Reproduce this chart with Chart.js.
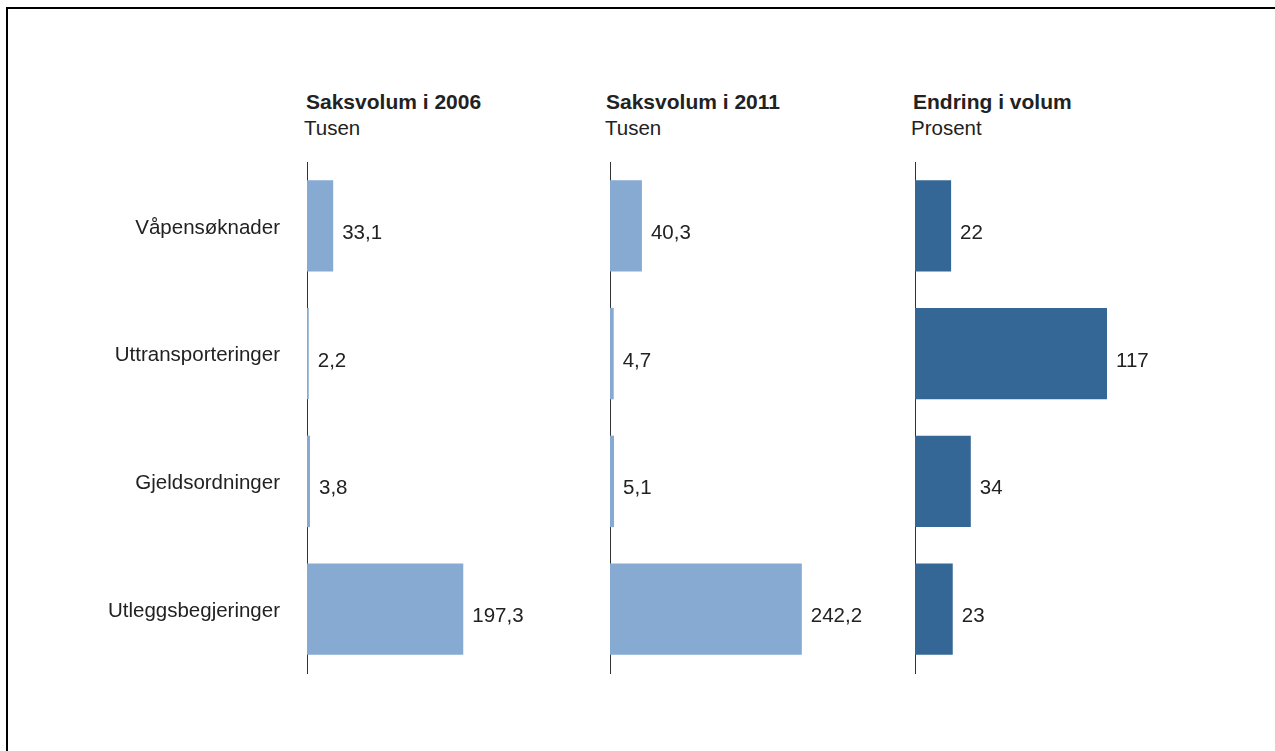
<!DOCTYPE html>
<html>
<head>
<meta charset="utf-8">
<script src="https://cdn.jsdelivr.net/npm/chart.js@4.4.0/dist/chart.umd.min.js"></script>
<style>
  body { margin:0; background:#fff; width:1275px; height:751px; overflow:hidden; position:relative;
         font-family:"Liberation Sans", Arial, sans-serif; color:#222; }
  .frame { position:absolute; left:6px; top:7px; width:1300px; height:800px;
           border-top:2px solid #000; border-left:2px solid #000; }
  canvas { position:absolute; top:0; }
  .title { position:absolute; font-weight:bold; font-size:21px; line-height:21px; white-space:nowrap; }
  .sub { position:absolute; font-size:20.5px; line-height:20.5px; white-space:nowrap; }
</style>
</head>
<body>
<div class="frame"></div>

<div class="title" style="left:306px; top:91px;">Saksvolum i 2006</div>
<div class="sub" style="left:304px; top:118px;">Tusen</div>
<div class="title" style="left:606px; top:91px;">Saksvolum i 2011</div>
<div class="sub" style="left:605px; top:118px;">Tusen</div>
<div class="title" style="left:913px; top:91px;">Endring i volum</div>
<div class="sub" style="left:911px; top:118px;">Prosent</div>

<canvas id="panel2006"></canvas>
<canvas id="panel2011"></canvas>
<canvas id="panelChange"></canvas>

<script>
// Saksvolum etter sakstype
const categories = ["Våpensøknader", "Uttransporteringer", "Gjeldsordninger", "Utleggsbegjeringer"];
const volume2006 = [33.1, 2.2, 3.8, 197.3];   // tusen
const volume2011 = [40.3, 4.7, 5.1, 242.2];   // tusen
const changePct = [22, 117, 34, 23];          // prosent

const FONT = '"Liberation Sans", Arial, sans-serif';

// Writes the value to the right of each bar, Norwegian decimal comma
const valueLabels = {
  id: 'valueLabels',
  afterDatasetsDraw(chart, args, opts) {
    const ctx = chart.ctx;
    const values = chart.data.datasets[0].data;
    ctx.save();
    ctx.font = '20.5px ' + FONT;
    ctx.fillStyle = '#222';
    ctx.textAlign = 'left';
    ctx.textBaseline = 'alphabetic';
    chart.getDatasetMeta(0).data.forEach((bar, i) => {
      const txt = values[i].toFixed(opts.decimals).replace('.', ',');
      ctx.fillText(txt, bar.x + 9, bar.y + 13);
    });
    ctx.restore();
  }
};

function buildPanel(id, values, cfg) {
  const canvas = document.getElementById(id);
  canvas.width = cfg.width;
  canvas.height = 751;
  canvas.style.left = cfg.left + 'px';
  // x max follows from the pixels per unit so the panels share a scale
  const plotWidth = cfg.width - cfg.axisWidth - cfg.padRight;

  return new Chart(canvas, {
    type: 'bar',
    data: {
      labels: categories,
      datasets: [{
        data: values,
        backgroundColor: cfg.color,
        barPercentage: 0.716,
        categoryPercentage: 1
      }]
    },
    options: {
      indexAxis: 'y',
      responsive: false,
      animation: false,
      layout: { padding: { left: 0, right: cfg.padRight, top: 162, bottom: 78 } },
      plugins: {
        legend: { display: false },
        tooltip: { enabled: false },
        valueLabels: { decimals: cfg.decimals }
      },
      scales: {
        x: { display: false, min: 0, max: plotWidth / cfg.pxPerUnit },
        y: {
          z: 1,
          grid: { display: false, drawTicks: false },
          border: { display: true, color: '#333', width: 1 },
          ticks: {
            display: cfg.showLabels,
            padding: 27,
            labelOffset: 2,
            color: '#222',
            font: { family: FONT, size: 20.5 }
          },
          afterFit: scale => { scale.width = cfg.axisWidth; }
        }
      }
    },
    plugins: [valueLabels]
  });
}

buildPanel('panel2006', volume2006, {
  left: 0, width: 580, axisWidth: 307, padRight: 70,
  pxPerUnit: 0.792, color: '#86aad2', decimals: 1, showLabels: true
});
buildPanel('panel2011', volume2011, {
  left: 600, width: 290, axisWidth: 10, padRight: 70,
  pxPerUnit: 0.792, color: '#86aad2', decimals: 1, showLabels: false
});
buildPanel('panelChange', changePct, {
  left: 905, width: 300, axisWidth: 10, padRight: 70,
  pxPerUnit: 1.641, color: '#346796', decimals: 0, showLabels: false
});
</script>
</body>
</html>
